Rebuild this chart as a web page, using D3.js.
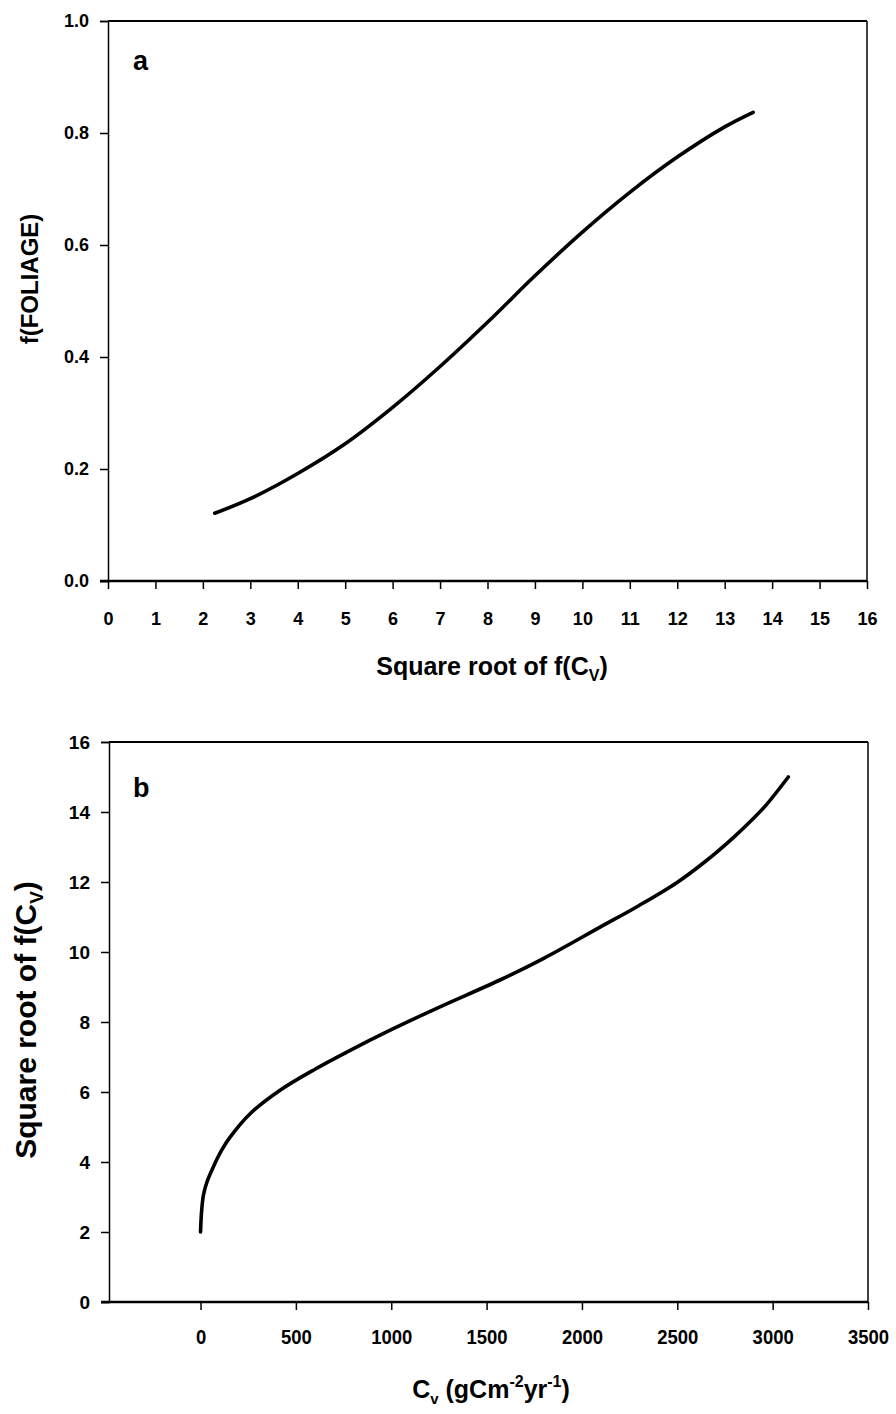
<!DOCTYPE html>
<html><head><meta charset="utf-8">
<script src="https://cdn.jsdelivr.net/npm/d3@7"></script>
<style>
body{margin:0;background:#fff;}
svg{display:block;}
text{font-family:"Liberation Sans",Arial,sans-serif;font-weight:bold;fill:#000;}
</style></head>
<body>
<script>
// Panel a: f(FOLIAGE) vs square root of f(Cv)
const aX = [2.25, 3, 4, 5, 6, 7, 8, 9, 10, 11, 12, 13, 13.6];
const aY = [0.121, 0.147, 0.192, 0.245, 0.310, 0.383, 0.462, 0.545, 0.623, 0.694, 0.757, 0.811, 0.837];
const aXTicks = [0,1,2,3,4,5,6,7,8,9,10,11,12,13,14,15,16];
const aYTicks = [0,0.2,0.4,0.6,0.8,1.0];

// Panel b: square root of f(Cv) vs Cv
const bX = [0, 5, 15, 35, 67, 110, 155, 260, 417, 600, 767, 1000, 1250, 1570, 1800, 2095, 2300, 2497, 2650, 2794, 2900, 2969, 3082];
const bY = [2.0, 2.55, 3.05, 3.45, 3.86, 4.33, 4.71, 5.38, 6.05, 6.65, 7.14, 7.78, 8.42, 9.2, 9.82, 10.71, 11.33, 11.98, 12.6, 13.27, 13.82, 14.22, 15.0];
const bXTicks = [0,500,1000,1500,2000,2500,3000,3500];
const bYTicks = [0,2,4,6,8,10,12,14,16];

const W = 896, H = 1414;
const svg = d3.select("body").append("svg").attr("width", W).attr("height", H);

function panel(cfg){
  const g = svg.append("g");
  const x = d3.scaleLinear().domain(cfg.xDomain).range([cfg.left, cfg.right]);
  const y = d3.scaleLinear().domain(cfg.yDomain).range([cfg.bottom, cfg.top]);

  // frame top & right
  g.append("line").attr("x1", cfg.left).attr("x2", cfg.right).attr("y1", cfg.top).attr("y2", cfg.top)
    .attr("stroke","#000").attr("stroke-width",2);
  g.append("line").attr("x1", cfg.right).attr("x2", cfg.right).attr("y1", cfg.top).attr("y2", cfg.bottom)
    .attr("stroke","#000").attr("stroke-width",1.5);

  // y axis
  const ya = g.append("g").attr("transform", `translate(${cfg.left},0)`)
    .call(d3.axisLeft(y).tickValues(cfg.yTicks).tickFormat(cfg.yFmt).tickSize(8).tickPadding(cfg.yPad));
  ya.select(".domain").attr("stroke-width",1.5);
  ya.selectAll(".tick line").attr("stroke-width",1.5);
  ya.selectAll(".tick text").attr("font-size",cfg.yFont).attr("font-weight","bold")
    .attr("font-family","Liberation Sans, Arial, sans-serif");

  // x axis
  const xa = g.append("g").attr("transform", `translate(0,${cfg.bottom})`)
    .call(d3.axisBottom(x).tickValues(cfg.xTicks).tickFormat(d3.format("d")).tickSize(8).tickPadding(cfg.xPad));
  xa.select(".domain").remove();
  xa.append("line").attr("x1", cfg.left-8).attr("x2", cfg.right).attr("y1",0).attr("y2",0)
    .attr("stroke","#000").attr("stroke-width",2.5);
  xa.selectAll(".tick line").attr("stroke-width",1.5);
  xa.selectAll(".tick text").attr("font-size",cfg.xFont).attr("font-weight","bold")
    .attr("font-family","Liberation Sans, Arial, sans-serif")
    .attr("transform", `scale(${cfg.xScale},1)`);

  // curve
  const line = d3.line().x((d,i)=>x(cfg.xs[i])).y((d,i)=>y(cfg.ys[i])).curve(d3.curveCatmullRom.alpha(0.5));
  g.append("path").datum(cfg.xs).attr("d", line).attr("fill","none")
    .attr("stroke","#000").attr("stroke-width",3.6).attr("stroke-linecap","round");

  // panel letter
  g.append("text").attr("x", 133).attr("y", cfg.letterY).attr("font-size",27).text(cfg.letter);
  return {x,y,g};
}

panel({left:108, right:867, top:21, bottom:581, xDomain:[0,16], yDomain:[0,1],
  xTicks:aXTicks, yTicks:aYTicks, yFmt:d3.format(".1f"), xPad:23, yPad:11, yFont:18, xFont:19, xScale:0.95,
  xs:aX, ys:aY, letter:"a", letterY:70});
panel({left:109, right:868, top:742, bottom:1302, xDomain:[-480,3500], yDomain:[0,16],
  xTicks:bXTicks, yTicks:bYTicks, yFmt:d3.format("d"), xPad:19, yPad:11, yFont:19, xFont:21, xScale:0.88,
  xs:bX, ys:bY, letter:"b", letterY:797});

// Axis titles
const t1 = svg.append("text").attr("x", 492).attr("y", 675).attr("text-anchor","middle")
  .attr("font-size",25);
t1.append("tspan").text("Square root of f(C");
t1.append("tspan").attr("font-size",16).attr("dy",6).text("V");
t1.append("tspan").attr("dy",-6).text(")");

svg.append("text").attr("transform","translate(38,279) rotate(-90)").attr("text-anchor","middle")
  .attr("font-size",24).text("f(FOLIAGE)");

const t2 = svg.append("text").attr("transform","translate(36,1020) rotate(-90)").attr("text-anchor","middle")
  .attr("font-size",30);
t2.append("tspan").text("Square root of f(C");
t2.append("tspan").attr("font-size",19).attr("dy",7).text("V");
t2.append("tspan").attr("dy",-7).text(")");

const t3 = svg.append("text").attr("x", 491).attr("y", 1398).attr("text-anchor","middle")
  .attr("font-size",25);
t3.append("tspan").text("C");
t3.append("tspan").attr("font-size",15).attr("dy",6).text("v");
t3.append("tspan").attr("dy",-6).text(" (gCm");
t3.append("tspan").attr("font-size",16).attr("dy",-11).text("-2");
t3.append("tspan").attr("dy",11).text("yr");
t3.append("tspan").attr("font-size",16).attr("dy",-11).text("-1");
t3.append("tspan").attr("dy",11).text(")");
</script>
</body></html>
